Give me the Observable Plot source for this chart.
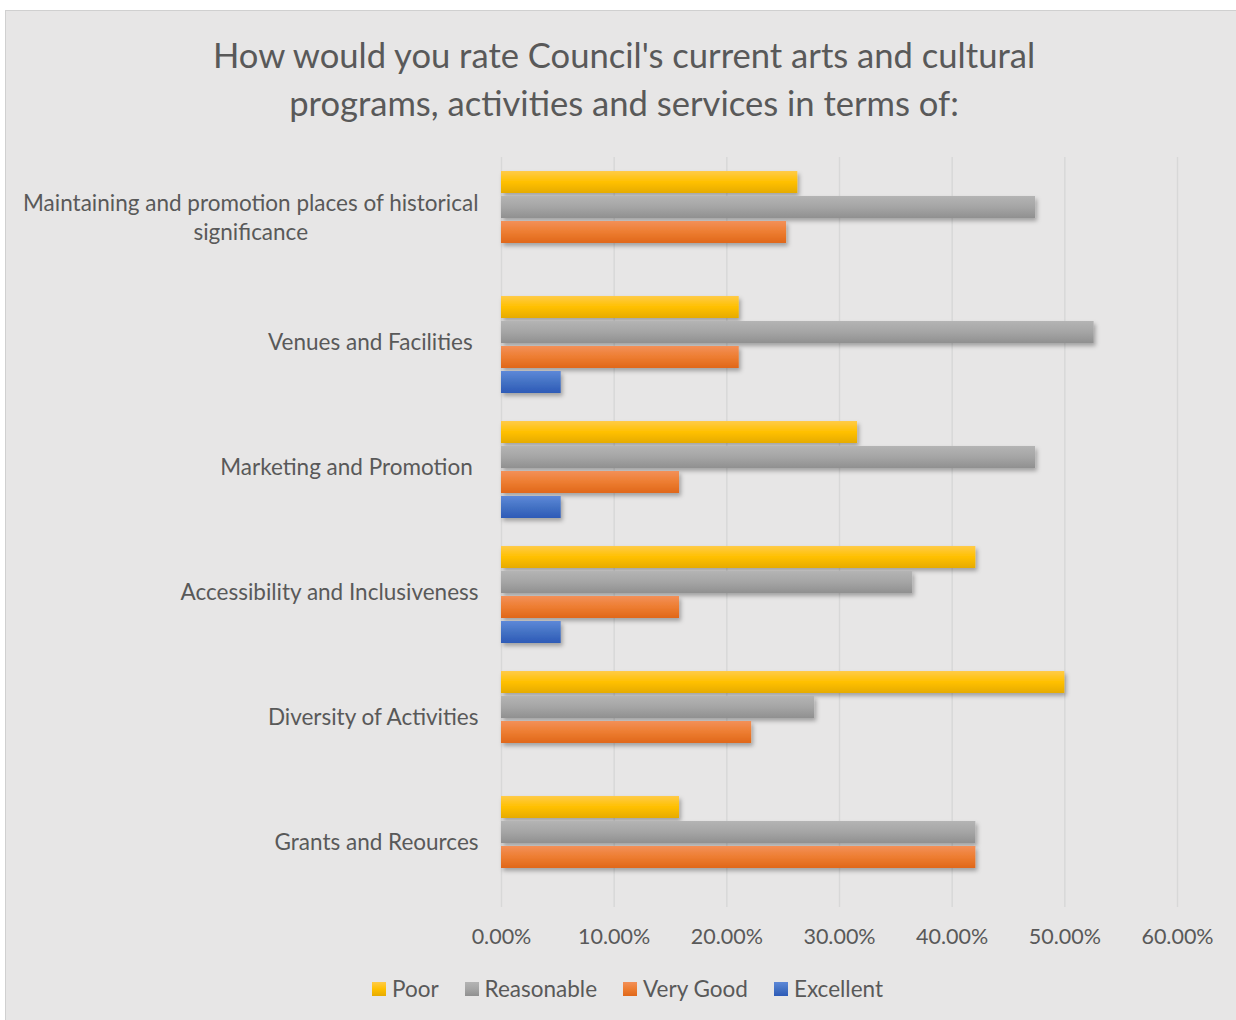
<!DOCTYPE html>
<html><head><meta charset="utf-8">
<script src="https://cdn.jsdelivr.net/npm/d3@7"></script>
<script src="https://cdn.jsdelivr.net/npm/@observablehq/plot@0.6"></script>
<style>
html,body{margin:0;padding:0;background:#fff;overflow:hidden;width:1236px;height:1020px;}
#frame{position:absolute;left:5px;top:10px;width:1250px;height:1030px;background:#e7e6e6;border:1px solid #d0d0d0;box-sizing:border-box;}
#title{position:absolute;left:0;top:31px;width:1248px;text-align:center;font-family:Lato;font-size:34.6px;line-height:48px;color:#595959;}
#chart{position:absolute;left:0;top:140px;}
#legend{position:absolute;left:0;top:977px;width:1255px;height:24px;display:flex;justify-content:center;align-items:center;gap:26px;font-family:Lato;font-size:22.5px;color:#595959;line-height:24px;}
.item{display:flex;align-items:center;gap:6px;}
.sw{width:14px;height:14px;}
</style></head><body>
<div id="frame"></div>
<div id="title">How would you rate Council's current arts and cultural<br>programs, activities and services in terms of:</div>
<div id="chart"></div>
<div id="legend"></div>
<script>
const categories = [
  "Maintaining and promotion places of historical significance",
  "Venues and Facilities ",
  "Marketing and Promotion ",
  "Accessibility and Inclusiveness",
  "Diversity of Activities",
  "Grants and Reources"
];
const seriesNames = ["Poor", "Reasonable", "Very Good", "Excellent"];
const poor       = [26.3, 21.1, 31.6, 42.1, 50.0, 15.8];
const reasonable = [47.4, 52.6, 47.4, 36.5, 27.8, 42.1];
const veryGood   = [25.3, 21.1, 15.8, 15.8, 22.2, 42.1];
const excellent  = [0,    5.3,  5.3,  5.3,  0,    0];
const xTicks = [0, 10, 20, 30, 40, 50, 60];
const seriesColors = [
  ["#ffcb48", "#ffc000", "#e6ab00"],
  ["#b4b4b4", "#a5a5a5", "#909090"],
  ["#f39058", "#ed7d31", "#e0671a"],
  ["#5d88d8", "#4472c4", "#2d5ab7"]
];

const labelFont = 22.5;
const ctx = document.createElement("canvas").getContext("2d");
ctx.font = `${labelFont}px Lato`;
function wrap(s, maxW) {
  const words = s.split(" ");
  const lines = [];
  let cur = "";
  for (const w of words) {
    const test = cur ? cur + " " + w : w;
    if (cur && ctx.measureText(test).width > maxW) { lines.push(cur); cur = w; }
    else cur = test;
  }
  lines.push(cur);
  return lines.join("\n");
}

const valuesBySeries = [poor, reasonable, veryGood, excellent];
const rows = [];
seriesNames.forEach((s, i) => categories.forEach((c, j) => {
  const v = valuesBySeries[i][j];
  if (v > 0) rows.push({category: c, series: s, value: v / 100});
}));

const plot = Plot.plot({
  width: 1236, height: 830,
  marginTop: 16, marginBottom: 63, marginLeft: 501, marginRight: 59,
  style: {fontFamily: "Lato", fontSize: "20px", color: "#595959", background: "transparent", overflow: "visible"},
  x: {domain: [0, 0.6], axis: null},
  y: {domain: seriesNames, paddingInner: 0.11, paddingOuter: 0.48, axis: null},
  fy: {domain: categories, padding: 0, axis: null},
  marks: [
    Plot.gridX(xTicks.map(d => d / 100), {stroke: "#d8d8d8", strokeOpacity: 1, strokeWidth: 1.5}),
    ...seriesNames.map((s, i) => Plot.barX(rows.filter(r => r.series === s), {
      x: "value", y: "series", fy: "category", fill: `url(#grad${i})`
    })),
    Plot.axisX(xTicks.map(d => d / 100), {
      tickFormat: d3.format(".2%"), tickSize: 0, tickPadding: 21, fontSize: 21.5, fill: "#595959", label: null
    }),
    Plot.text(categories, {
      fy: d => d, text: d => wrap(d, 490), frameAnchor: "left", textAnchor: "end", dx: -23, dy: -4,
      lineHeight: 1.29, fontSize: labelFont, fill: "#595959"
    })
  ]
});
document.getElementById("chart").appendChild(plot);

const svg = d3.select(plot);
const defs = svg.insert("defs", ":first-child");
seriesColors.forEach((cs, i) => {
  const g = defs.append("linearGradient").attr("id", `grad${i}`)
    .attr("x1", 0).attr("y1", 0).attr("x2", 0).attr("y2", 1);
  cs.forEach((c, k) => g.append("stop").attr("offset", k / (cs.length - 1)).attr("stop-color", c));
});
const f = defs.append("filter").attr("id", "shadow")
  .attr("x", "-5%").attr("y", "-20%").attr("width", "125%").attr("height", "175%");
f.append("feDropShadow").attr("dx", 2).attr("dy", 3).attr("stdDeviation", 2)
  .attr("flood-color", "#000").attr("flood-opacity", 0.3);
svg.selectAll('g[aria-label="bar"] rect').attr("filter", "url(#shadow)");

svg.selectAll('g[aria-label="text"] text').each(function() {
  this.style.whiteSpace = "pre";
  const tspans = this.querySelectorAll("tspan");
  if (tspans.length > 1) {
    const w = this.getBBox().width;
    this.setAttribute("text-anchor", "middle");
    this.setAttribute("transform", (this.getAttribute("transform") || "") + ` translate(${-w / 2},0)`);
  }
});

const legend = d3.select("#legend");
seriesNames.forEach((s, i) => {
  const it = legend.append("div").attr("class", "item");
  it.append("div").attr("class", "sw")
    .style("background", `linear-gradient(${seriesColors[i][0]}, ${seriesColors[i][1]}, ${seriesColors[i][2]})`);
  it.append("span").text(s);
});
</script>
</body></html>
